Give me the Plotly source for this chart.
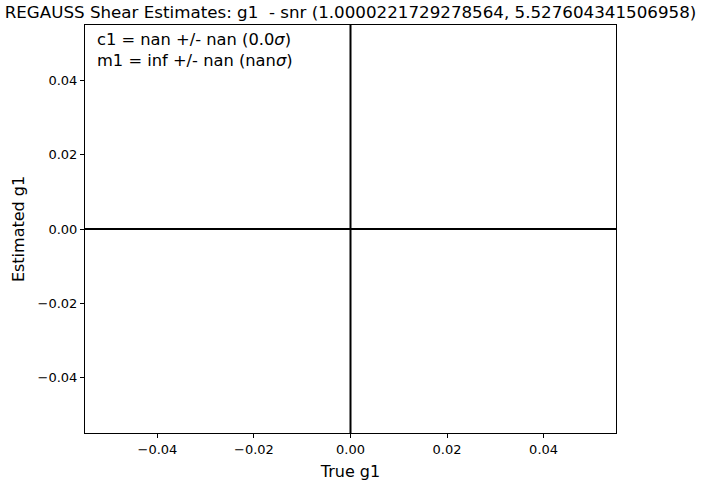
import plotly.graph_objects as go

# Chart data
title = "REGAUSS Shear Estimates: g1  - snr (1.0000221729278564, 5.527604341506958)"
fit_lines = ["c1 = nan +/- nan (0.0<i>σ</i>)", "m1 = inf +/- nan (nan<i>σ</i>)"]
hline_y = [0.0]
vline_x = [0.0]
x_range = [-0.055, 0.055]
y_range = [-0.055, 0.055]
tick_vals = [-0.04, -0.02, 0.0, 0.02, 0.04]
tick_text = ["\u22120.04", "\u22120.02", "0.00", "0.02", "0.04"]

font = "DejaVu Sans"
fig = go.Figure()

# axhline / axvline equivalents
for y in hline_y:
    fig.add_shape(type="line", xref="x domain", yref="y", x0=0, x1=1, y0=y, y1=y,
                  line=dict(color="black", width=2))
for x in vline_x:
    fig.add_shape(type="line", xref="x", yref="y domain", x0=x, x1=x, y0=0, y1=1,
                  line=dict(color="black", width=2))

fig.add_annotation(text="<br>".join(fit_lines), xref="paper", yref="paper",
                   x=0.0, y=1.0, xshift=10, yshift=-3, xanchor="left", yanchor="top",
                   align="left", showarrow=False,
                   font=dict(family=font, size=16.3, color="black"))

axis_style = dict(showline=True, linecolor="black", linewidth=1, mirror=True,
                  ticks="outside", ticklen=4, tickcolor="black", showgrid=False,
                  zeroline=False, tickvals=tick_vals, ticktext=tick_text, automargin=False,
                  tickfont=dict(family=font, size=13, color="black"))

fig.update_xaxes(range=x_range, title=dict(text="True g1", font=dict(family=font, size=16, color="black"), standoff=10), **axis_style)
fig.update_yaxes(range=y_range, title=dict(text="Estimated g1", font=dict(family=font, size=16, color="black"), standoff=8), **axis_style)

fig.update_layout(
    width=701, height=482,
    margin=dict(l=85, r=85, t=25, b=49),
    plot_bgcolor="white", paper_bgcolor="white",
    showlegend=False,
    title=dict(text=title, x=0.5, xanchor="center", y=0.975, yanchor="middle", automargin=False,
               font=dict(family=font, size=16.7, color="black")),
)

# drop the default page margin so the figure sits at the window's corner
fig.write_html("out.html", config={"displayModeBar": False},
               post_script="document.body.style.margin='0px';")
